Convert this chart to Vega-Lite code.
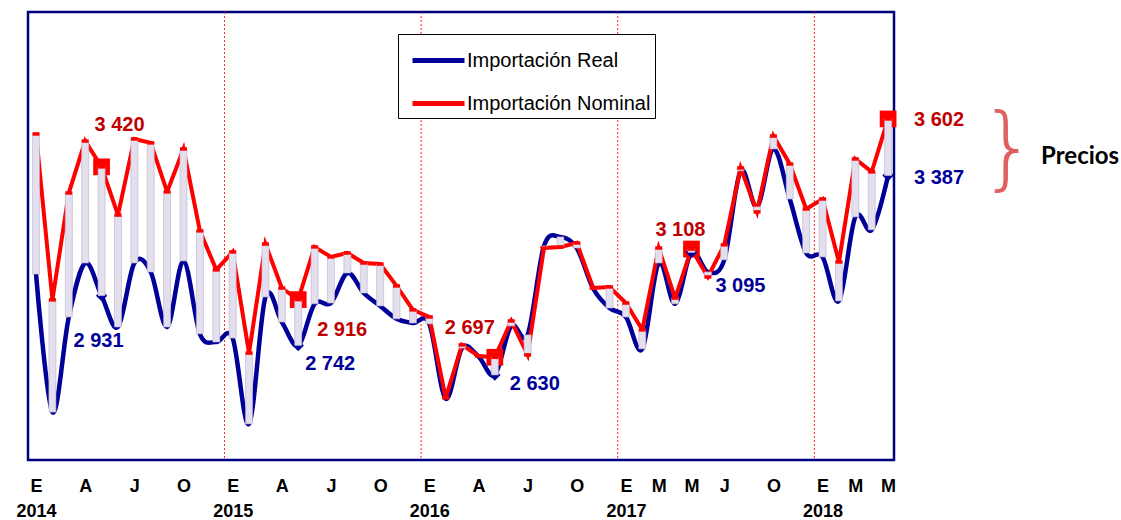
{
  "$schema": "https://vega.github.io/schema/vega-lite/v6.json",
  "width": 866,
  "height": 448,
  "autosize": {"type": "none"},
  "padding": {"left": 28, "top": 12, "right": 227, "bottom": 60},
  "background": "white",
  "config": {"view": {"stroke": "#000080", "strokeWidth": 2.5}, "font": "Liberation Sans"},
  "datasets": {
    "d": [
      {"i": 0, "nominal": 3545, "real": 3013},
      {"i": 1, "nominal": 2915, "real": 2489},
      {"i": 2, "nominal": 3321, "real": 2850},
      {"i": 3, "nominal": 3518, "real": 3055},
      {"i": 4, "nominal": 3420, "real": 2931},
      {"i": 5, "nominal": 3237, "real": 2812},
      {"i": 6, "nominal": 3526, "real": 3055},
      {"i": 7, "nominal": 3511, "real": 3021},
      {"i": 8, "nominal": 3325, "real": 2812},
      {"i": 9, "nominal": 3488, "real": 3063},
      {"i": 10, "nominal": 3177, "real": 2786},
      {"i": 11, "nominal": 3029, "real": 2755},
      {"i": 12, "nominal": 3097, "real": 2770},
      {"i": 13, "nominal": 2713, "real": 2444},
      {"i": 14, "nominal": 3127, "real": 2926},
      {"i": 15, "nominal": 2960, "real": 2831},
      {"i": 16, "nominal": 2916, "real": 2742},
      {"i": 17, "nominal": 3116, "real": 2900},
      {"i": 18, "nominal": 3078, "real": 2903},
      {"i": 19, "nominal": 3093, "real": 3017},
      {"i": 20, "nominal": 3055, "real": 2941},
      {"i": 21, "nominal": 3051, "real": 2892},
      {"i": 22, "nominal": 2968, "real": 2843},
      {"i": 23, "nominal": 2877, "real": 2827},
      {"i": 24, "nominal": 2850, "real": 2824},
      {"i": 25, "nominal": 2543, "real": 2540},
      {"i": 26, "nominal": 2744, "real": 2732},
      {"i": 27, "nominal": 2702, "real": 2700},
      {"i": 28, "nominal": 2697, "real": 2630},
      {"i": 29, "nominal": 2835, "real": 2816},
      {"i": 30, "nominal": 2706, "real": 2782},
      {"i": 31, "nominal": 3112, "real": 3120},
      {"i": 32, "nominal": 3116, "real": 3154},
      {"i": 33, "nominal": 3131, "real": 3112},
      {"i": 34, "nominal": 2960, "real": 2958},
      {"i": 35, "nominal": 2964, "real": 2884},
      {"i": 36, "nominal": 2903, "real": 2850},
      {"i": 37, "nominal": 2801, "real": 2729},
      {"i": 38, "nominal": 3112, "real": 3055},
      {"i": 39, "nominal": 2922, "real": 2900},
      {"i": 40, "nominal": 3108, "real": 3095},
      {"i": 41, "nominal": 3002, "real": 3021},
      {"i": 42, "nominal": 3124, "real": 3067},
      {"i": 43, "nominal": 3416, "real": 3405},
      {"i": 44, "nominal": 3249, "real": 3268},
      {"i": 45, "nominal": 3537, "real": 3488},
      {"i": 46, "nominal": 3431, "real": 3298},
      {"i": 47, "nominal": 3260, "real": 3093},
      {"i": 48, "nominal": 3298, "real": 3078},
      {"i": 49, "nominal": 3059, "real": 2911},
      {"i": 50, "nominal": 3450, "real": 3230},
      {"i": 51, "nominal": 3401, "real": 3181},
      {"i": 52, "nominal": 3602, "real": 3387}
    ]
  },
  "data": {"name": "d"},
  "encoding": {
    "x": {
      "field": "i",
      "type": "quantitative",
      "scale": {"domain": [-0.49, 52.36], "nice": false, "zero": false, "padding": 0},
      "axis": {
        "values": [0, 3, 6, 9, 12, 15, 18, 21, 24, 27, 30, 33, 36, 38, 40, 42, 45, 48, 50, 52],
        "labelExpr": "datum.value % 12 == 0 ? ['E', '' + (2014 + floor(datum.value / 12))] : ['E','F','M','A','M','J','J','A','S','O','N','D'][datum.value % 12]",
        "domain": false,
        "ticks": false,
        "grid": false,
        "title": null,
        "labelFont": "Liberation Sans",
        "labelFontWeight": "bold",
        "labelFontSize": 18,
        "labelColor": "black",
        "labelPadding": 17,
        "labelLineHeight": 25,
        "labelBound": false,
        "labelOverlap": false,
        "labelFlush": false
      }
    }
  },
  "layer": [
    {
      "data": {"values": [{"i": 11.5}, {"i": 23.5}, {"i": 35.5}, {"i": 47.5}]},
      "mark": {"type": "rule", "color": "#ff2020", "strokeDash": [2, 2], "strokeWidth": 1},
      "encoding": {}
    },
    {
      "mark": {"type": "line", "interpolate": "cardinal", "strokeWidth": 4.5},
      "encoding": {
        "y": {"field": "real", "type": "quantitative", "scale": {"domain": [2307, 4008], "nice": false, "zero": false, "padding": 0}, "axis": null},
        "color": {
          "datum": "Importación Real",
          "scale": {"domain": ["Importación Real", "Importación Nominal"], "range": ["#000099", "#ff0000"]},
          "legend": {
            "orient": "none",
            "legendX": 370,
            "legendY": 22,
            "title": null,
            "strokeColor": "black",
            "fillColor": "white",
            "padding": 4,
            "symbolType": "M-0.6,0H2.0",
            "symbolSize": 1600,
            "symbolStrokeWidth": 5,
            "labelFont": "Liberation Sans",
            "labelFontSize": 20,
            "labelColor": "black",
            "labelOffset": 20,
            "rowPadding": 10,
            "labelLimit": 300
          }
        }
      }
    },
    {
      "mark": {"type": "line", "strokeWidth": 4},
      "encoding": {
        "y": {"field": "nominal", "type": "quantitative", "scale": {"domain": [2307, 4008], "nice": false, "zero": false, "padding": 0}, "axis": null},
        "color": {"datum": "Importación Nominal"}
      }
    },
    {
      "transform": [{"filter": "datum.i % 12 == 4"}],
      "mark": {"type": "point", "shape": "square", "filled": true, "size": 280, "color": "#ff0000", "opacity": 1},
      "encoding": {
        "y": {"field": "nominal", "type": "quantitative", "axis": null}
      }
    },
    {
      "transform": [{"filter": "datum.i % 12 == 4"}],
      "mark": {"type": "point", "shape": "diamond", "filled": true, "size": 130, "color": "#000099", "opacity": 1},
      "encoding": {
        "y": {"field": "real", "type": "quantitative", "axis": null}
      }
    },
    {
      "mark": {"type": "bar", "size": 7, "fill": "#e3dfec", "stroke": "#b9b1cf", "strokeWidth": 0.6},
      "encoding": {
        "y": {"field": "real", "type": "quantitative", "axis": null},
        "y2": {"field": "nominal"}
      }
    },
    {
      "mark": {"type": "point", "shape": "M-1,-0.5H1V0.5H-1Z", "filled": true, "size": 49, "color": "#ff0000", "opacity": 1, "strokeWidth": 0},
      "encoding": {
        "y": {"field": "nominal", "type": "quantitative", "axis": null}
      }
    },
    {
      "data": {"values": [{"i": 4, "v": 3420, "t": "3 420"}]},
      "mark": {"type": "text", "dx": 18, "dy": -42, "fontWeight": "bold", "fontSize": 20, "color": "#c00000"},
      "encoding": {"y": {"field": "v", "type": "quantitative", "axis": null}, "text": {"field": "t"}}
    },
    {
      "data": {"values": [{"i": 4, "v": 2931, "t": "2 931"}]},
      "mark": {"type": "text", "dx": -3, "dy": 45, "fontWeight": "bold", "fontSize": 20, "color": "#000099"},
      "encoding": {"y": {"field": "v", "type": "quantitative", "axis": null}, "text": {"field": "t"}}
    },
    {
      "data": {"values": [{"i": 16, "v": 2916, "t": "2 916"}]},
      "mark": {"type": "text", "dx": 44, "dy": 30, "fontWeight": "bold", "fontSize": 20, "color": "#c00000"},
      "encoding": {"y": {"field": "v", "type": "quantitative", "axis": null}, "text": {"field": "t"}}
    },
    {
      "data": {"values": [{"i": 16, "v": 2742, "t": "2 742"}]},
      "mark": {"type": "text", "dx": 32, "dy": 19, "fontWeight": "bold", "fontSize": 20, "color": "#000099"},
      "encoding": {"y": {"field": "v", "type": "quantitative", "axis": null}, "text": {"field": "t"}}
    },
    {
      "data": {"values": [{"i": 28, "v": 2697, "t": "2 697"}]},
      "mark": {"type": "text", "dx": -25, "dy": -29, "fontWeight": "bold", "fontSize": 20, "color": "#c00000"},
      "encoding": {"y": {"field": "v", "type": "quantitative", "axis": null}, "text": {"field": "t"}}
    },
    {
      "data": {"values": [{"i": 28, "v": 2630, "t": "2 630"}]},
      "mark": {"type": "text", "dx": 40, "dy": 9, "fontWeight": "bold", "fontSize": 20, "color": "#000099"},
      "encoding": {"y": {"field": "v", "type": "quantitative", "axis": null}, "text": {"field": "t"}}
    },
    {
      "data": {"values": [{"i": 40, "v": 3108, "t": "3 108"}]},
      "mark": {"type": "text", "dx": -11, "dy": -19, "fontWeight": "bold", "fontSize": 20, "color": "#c00000"},
      "encoding": {"y": {"field": "v", "type": "quantitative", "axis": null}, "text": {"field": "t"}}
    },
    {
      "data": {"values": [{"i": 40, "v": 3095, "t": "3 095"}]},
      "mark": {"type": "text", "dx": 49, "dy": 34, "fontWeight": "bold", "fontSize": 20, "color": "#000099"},
      "encoding": {"y": {"field": "v", "type": "quantitative", "axis": null}, "text": {"field": "t"}}
    },
    {
      "data": {"values": [{"i": 52, "v": 3602, "t": "3 602"}]},
      "mark": {"type": "text", "dx": 51, "dy": 1, "fontWeight": "bold", "fontSize": 20, "color": "#c00000"},
      "encoding": {"y": {"field": "v", "type": "quantitative", "axis": null}, "text": {"field": "t"}}
    },
    {
      "data": {"values": [{"i": 52, "v": 3387, "t": "3 387"}]},
      "mark": {"type": "text", "dx": 51, "dy": 2, "fontWeight": "bold", "fontSize": 20, "color": "#000099"},
      "encoding": {"y": {"field": "v", "type": "quantitative", "axis": null}, "text": {"field": "t"}}
    },
    {
      "data": {"values": [{"i": 52, "v": 3480, "t": "}"}]},
      "mark": {"type": "text", "dx": 120, "dy": 0, "font": "DejaVu Sans", "fontWeight": 200, "fontSize": 90, "color": "#e06060"},
      "encoding": {"y": {"field": "v", "type": "quantitative", "axis": null}, "text": {"field": "t"}}
    },
    {
      "data": {"values": [{"i": 52, "v": 3480, "t": "Precios"}]},
      "mark": {"type": "text", "dx": 192, "dy": 6, "font": "Lato", "fontWeight": "bold", "fontSize": 24, "color": "black"},
      "encoding": {"y": {"field": "v", "type": "quantitative", "axis": null}, "text": {"field": "t"}}
    }
  ]
}
